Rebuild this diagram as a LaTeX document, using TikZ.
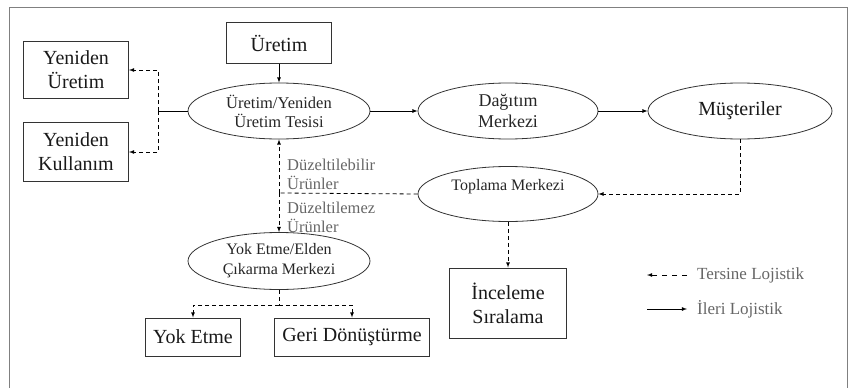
\documentclass[tikz,border=0pt]{standalone}
\usepackage{fontspec}
\setmainfont{Liberation Serif}
\usetikzlibrary{shapes.geometric, arrows, positioning, calc}
\tikzset{
  kutu/.style={rectangle,draw=black!80,line width=1pt,inner sep=0pt,align=center,text=black!90,font=\fontsize{20}{24}\selectfont},
  merkez/.style={ellipse,draw=black!80,line width=0.8pt,inner sep=0pt,minimum width=182pt,minimum height=56pt,align=center,text=black!85,font=\fontsize{16.5}{19}\selectfont},
  ileri/.style={line width=0.8pt,-latex,black},
  tersine/.style={ileri,dash pattern=on 4pt off 3pt},
  tersinex/.style={tersine,-},
  etiket/.style={text=black!60,font=\fontsize{16.5}{19}\selectfont,align=left,inner sep=0pt},
}

\begin{document}
\begin{tikzpicture}[x=1pt,y=-1pt]
	\useasboundingbox (0,0) rectangle (856,388);
	\draw[black!50,line width=1pt] (9,388) -- (9,7) -- (847,7) -- (847,388);
	    % ileri lojistik
	    \node[kutu,minimum width=105pt,minimum height=41pt] (uretim) at (279,43) {Üretim};
	    \node[merkez] (tesis) at (279,111) {Üretim/Yeniden\\Üretim Tesisi};
	    \node[merkez,minimum width=180pt,font=\fontsize{18}{21}\selectfont] (dagitim) at (508,111) {Dağıtım\\Merkezi};
	    \node[merkez,minimum width=184pt,text=black!90,font=\fontsize{20}{24}\selectfont] (musteri) at (740,111) {Müşteriler};
	    \draw[ileri] (uretim) -- (tesis);
	    \draw[ileri] (tesis) -- (dagitim);
	    \draw[ileri] (dagitim) -- (musteri);
	    % tersine lojistik
	    \node[kutu,minimum width=105pt,minimum height=57pt] (yuretim) at (76,70) {Yeniden\\Üretim};
	    \node[kutu,minimum width=105pt,minimum height=59pt] (ykullanim) at (76,152) {Yeniden\\Kullanım};
	    \node[merkez,minimum width=180pt,minimum height=55pt,font=\fontsize{16}{19}\selectfont] (toplama) at (508,194) {Toplama Merkezi\\\mbox{}};
	    \node[merkez,minimum height=57pt,font=\fontsize{16}{20}\selectfont] (yokm) at (279,261) {Yok Etme/Elden\\Çıkarma Merkezi};
	    \node[kutu,minimum width=95pt,minimum height=38pt] (yoketme) at (193,337) {Yok Etme};
	    \node[kutu,minimum width=155pt,minimum height=38pt] (geri) at (352,337) {Geri Dönüştürme};
	    \node[kutu,minimum width=117pt,minimum height=70pt] (inceleme) at (508,303) {İnceleme\\Sıralama};
	    \coordinate (sol) at (158,111);
	    \coordinate (ayrim) at (279,193);
	    \coordinate (dal) at (279,305);
	    \draw[line width=0.8pt,black] (tesis.west) -- (sol);
	    \draw[tersine] (sol) |- (yuretim.east);
	    \draw[tersine] (sol) |- (ykullanim.east);
	    \draw[tersine] (musteri.south) |- (toplama.east);
	    \draw[tersinex] (toplama.west) -- (ayrim);
	    \draw[tersine] (ayrim) -- (tesis.south);
	    \draw[tersine] (ayrim) -- (yokm.north);
	    \draw[tersine] (toplama.south) -- (inceleme.north);
	    \draw[tersinex] (yokm.south) -- (dal);
	    \draw[tersine] (dal) -| (yoketme.north);
	    \draw[tersine] (dal) -| (geri.north);
	    \node[etiket,anchor=west] (duz) at (287,174) {Düzeltilebilir\\Ürünler};
	    \node[etiket,anchor=west] (duzm) at (287,217) {Düzeltilemez\\Ürünler};
	    % aciklama
	    \coordinate (t1) at (687,275);
	    \coordinate (t2) at (647,275);
	    \coordinate (i1) at (647,309);
	    \coordinate (i2) at (687,309);
	    \draw[tersine,dash pattern=on 5pt off 5pt] (t1) -- (t2);
	    \draw[ileri] (i1) -- (i2);
	    \node[etiket,anchor=west,font=\fontsize{17}{19}\selectfont] (tlab) at (697,275) {Tersine Lojistik};
	    \node[etiket,anchor=west,font=\fontsize{17}{19}\selectfont] (ilab) at (697,309) {İleri Lojistik};
	\end{tikzpicture}
\end{document}
